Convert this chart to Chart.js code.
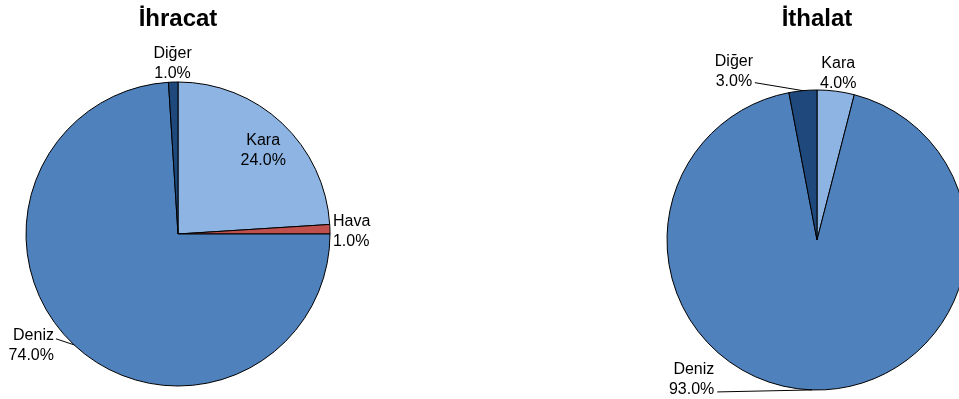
<!DOCTYPE html>
<html><head><meta charset="utf-8">
<script src="https://cdn.jsdelivr.net/npm/chart.js@4/dist/chart.umd.min.js"></script>
<style>
html,body{margin:0;padding:0;overflow:hidden;background:#fff;width:959px;height:399px;position:relative}
#c1{position:absolute;left:0;top:0}
#c2{position:absolute;left:480px;top:0}
</style></head><body>
<canvas id="c1" width="480" height="399"></canvas>
<canvas id="c2" width="520" height="399"></canvas>
<script>
const categories = ['Kara', 'Hava', 'Deniz', 'Diğer'];
const exportShares = [24, 1, 74, 1];
const importShares = [4, 0, 93, 3];
const chartTitles = ['İhracat', 'İthalat'];
const sliceColors = ['#8DB4E2', '#C0504D', '#4F81BD', '#1F497D'];

const FONT = '"Liberation Sans", Arial, Helvetica, sans-serif';

const labelPlugin = {
  id: 'pieLabels',
  afterDatasetsDraw(chart, args, opts) {
    const ctx = chart.ctx;
    const meta = chart.getDatasetMeta(0);
    const data = chart.data.datasets[0].data;
    const total = data.reduce((a, b) => a + b, 0);
    ctx.save();
    ctx.font = '16px ' + FONT;
    ctx.fillStyle = '#000';
    ctx.strokeStyle = '#000';
    ctx.lineWidth = 1;
    meta.data.forEach((arc, i) => {
      const spec = opts.specs[i];
      if (!spec || !data[i]) return;
      const p = arc.getProps(['x', 'y', 'startAngle', 'endAngle', 'outerRadius'], true);
      const mid = (p.startAngle + p.endAngle) / 2;
      const ax = p.x + Math.cos(mid) * p.outerRadius * spec.rf;
      const ay = p.y + Math.sin(mid) * p.outerRadius * spec.rf;
      let px = ax, py = ay;
      if (spec.line) {
        px = ax + spec.line[0];
        py = ay + spec.line[1];
        ctx.beginPath();
        ctx.moveTo(px, py);
        ctx.lineTo(ax, ay);
        ctx.stroke();
      }
      const tx = px + (spec.tx || 0), ty = py + (spec.ty || 0);
      ctx.textAlign = spec.align || 'center';
      ctx.textBaseline = 'alphabetic';
      const gap = opts.lineGap;
      ctx.fillText(chart.data.labels[i], tx, ty - gap / 2 + 6);
      ctx.fillText((data[i] / total * 100).toFixed(1) + '%', tx, ty + gap / 2 + 6);
    });
    ctx.font = 'bold 24px ' + FONT;
    ctx.textAlign = 'center';
    ctx.textBaseline = 'alphabetic';
    ctx.fillText(opts.title, meta.data[0].x, 26);
    ctx.restore();
  }
};

function makePie(id, values, title, padding, specs) {
  return new Chart(document.getElementById(id), {
    type: 'pie',
    data: {
      labels: categories,
      datasets: [{
        data: values,
        backgroundColor: sliceColors,
        borderColor: '#000',
        borderWidth: 1,
        hoverOffset: 0,
        offset: 0
      }]
    },
    options: {
      responsive: false,
      animation: false,
      events: [],
      layout: { padding: padding },
      plugins: {
        legend: { display: false },
        tooltip: { enabled: false },
        pieLabels: { title: title, specs: specs, lineGap: 20 }
      }
    },
    plugins: [labelPlugin]
  });
}

makePie('c1', exportShares, chartTitles[0],
  { left: 25.5, right: 149.5, top: 81.5, bottom: 12.5 },
  [
    { rf: 0.79, tx: 3, ty: 3 },
    { rf: 1.0, tx: 3, ty: 1, align: 'left' },
    { rf: 1.0, line: [-18, -6], tx: -2, ty: 5, align: 'right' },
    { rf: 1.13 }
  ]);

makePie('c2', importShares, chartTitles[1],
  { left: 186.5, right: 32.5, top: 89.5, bottom: 8.5 },
  [
    { rf: 1.13 },
    null,
    { rf: 1.0, line: [-95, 2], tx: -3, ty: -14, align: 'right' },
    { rf: 1.0, line: [-48, -8], tx: -21, ty: -13 }
  ]);
</script>
</body></html>
